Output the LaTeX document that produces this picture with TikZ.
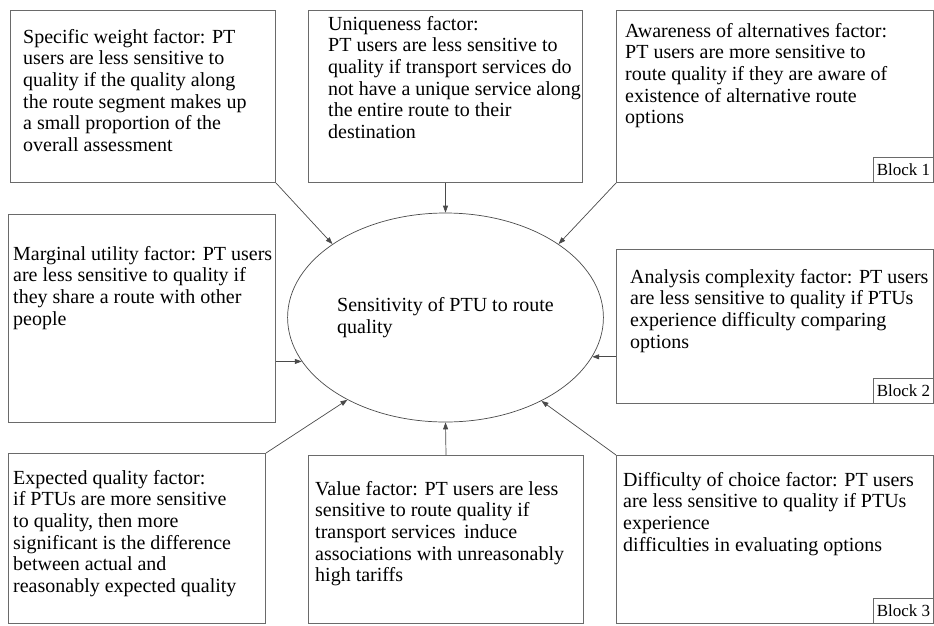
\documentclass[tikz,border=0pt]{standalone}
\usepackage{fontspec}
\setmainfont{Liberation Serif}
\usepackage{tikz}
\usetikzlibrary{arrows.meta,positioning,calc,shapes.geometric}
\definecolor{frame}{HTML}{6A6A6A}
\definecolor{wire}{HTML}{4A4A4A}
\tikzset{
  factor/.style={draw=frame,line width=1pt,anchor=north west,inner sep=0pt},
  ftext/.style={anchor=north west,align=left,inner sep=0pt,font=\fontsize{20}{21.7}\selectfont,
    execute at begin node=\strut},
  tag/.style={draw=frame,line width=0.9pt,anchor=south east,minimum width=60,minimum height=25,
    inner sep=1pt,font=\fontsize{17}{18}\selectfont},
  link/.style={-{Triangle[length=7pt,width=5pt]},line width=0.7pt,draw=wire},
}

\begin{document}
\begin{tikzpicture}[x=1pt,y=-1pt]
  \useasboundingbox (0,0) rectangle (934,625);
  % boxes
  \node[factor,minimum width=265,minimum height=172] (weight) at (10,10) {};
  \node[factor,minimum width=274,minimum height=172] (unique) at (308,10) {};
  \node[factor,minimum width=317,minimum height=172] (aware) at (616,10) {};
  \node[factor,minimum width=267,minimum height=208] (margin) at (8,214) {};
  \node[factor,minimum width=317,minimum height=154] (analysis) at (616,249) {};
  \node[factor,minimum width=257,minimum height=170] (expect) at (8,453) {};
  \node[factor,minimum width=275,minimum height=168] (value) at (308,455) {};
  \node[factor,minimum width=317,minimum height=168] (choice) at (616,455) {};
  \node[draw=wire,line width=0.7pt,ellipse,minimum width=275,minimum height=209,align=left,
    font=\fontsize{20}{21.7}\selectfont] (sens) at (445.5,317.5) {Sensitivity of PTU to route\\ quality};
  % texts
  \node[ftext] (tweight) at ([shift={(13,18.8)}]weight.north west) {Specific weight factor: PT\\ users are less sensitive to\\ quality if the quality along\\ the route segment makes up\\ a small proportion of the\\ overall assessment};
  \node[ftext] (tunique) at ([shift={(20,5.8)}]unique.north west) {Uniqueness factor:\\ PT users are less sensitive to\\ quality if transport services do\\ not have a unique service along\\ the entire route to their\\ destination};
  \node[ftext] (taware) at ([shift={(9,12.8)}]aware.north west) {Awareness of alternatives factor:\\ PT users are more sensitive to\\ route quality if they are aware of\\ existence of alternative route\\ options};
  \node[ftext] (tmargin) at ([shift={(5,31.8)}]margin.north west) {Marginal utility factor: PT users\\ are less sensitive to quality if\\ they share a route with other\\ people};
  \node[ftext] (tanalysis) at ([shift={(14,19.8)}]analysis.north west) {Analysis complexity factor: PT users\\ are less sensitive to quality if PTUs\\ experience difficulty comparing\\ options};
  \node[ftext] (texpect) at ([shift={(5,16.8)}]expect.north west) {Expected quality factor:\\ if PTUs are more sensitive\\ to quality, then more\\ significant is the difference\\ between actual and\\ reasonably expected quality};
  \node[ftext] (tvalue) at ([shift={(7,25.8)}]value.north west) {Value factor: PT users are less\\ sensitive to route quality if\\ transport services\, induce\\ associations with unreasonably\\ high tariffs};
  \node[ftext] (tchoice) at ([shift={(7,16.8)}]choice.north west) {Difficulty of choice factor: PT users\\ are less sensitive to quality if PTUs\\ experience\\ difficulties in evaluating options};
  % tags
  \node[tag] (b1) at (aware.south east) {Block 1};
  \node[tag] (b2) at (analysis.south east) {Block 2};
  \node[tag] (b3) at (choice.south east) {Block 3};
  % arrows
  \draw[link] (weight.south east) -- (sens.147);
  \draw[link] (unique.south) -- (sens.north);
  \draw[link] (aware.south west) -- (sens.33);
  \draw[link] (margin.east |- sens.197) -- (sens.197);
  \draw[link] (analysis.west |- sens.345) -- (sens.345);
  \draw[link] (expect.north east) -- (sens.220);
  \draw[link] (value.north) -- (sens.south);
  \draw[link] (choice.north west) -- (sens.319);
\end{tikzpicture}
\end{document}
